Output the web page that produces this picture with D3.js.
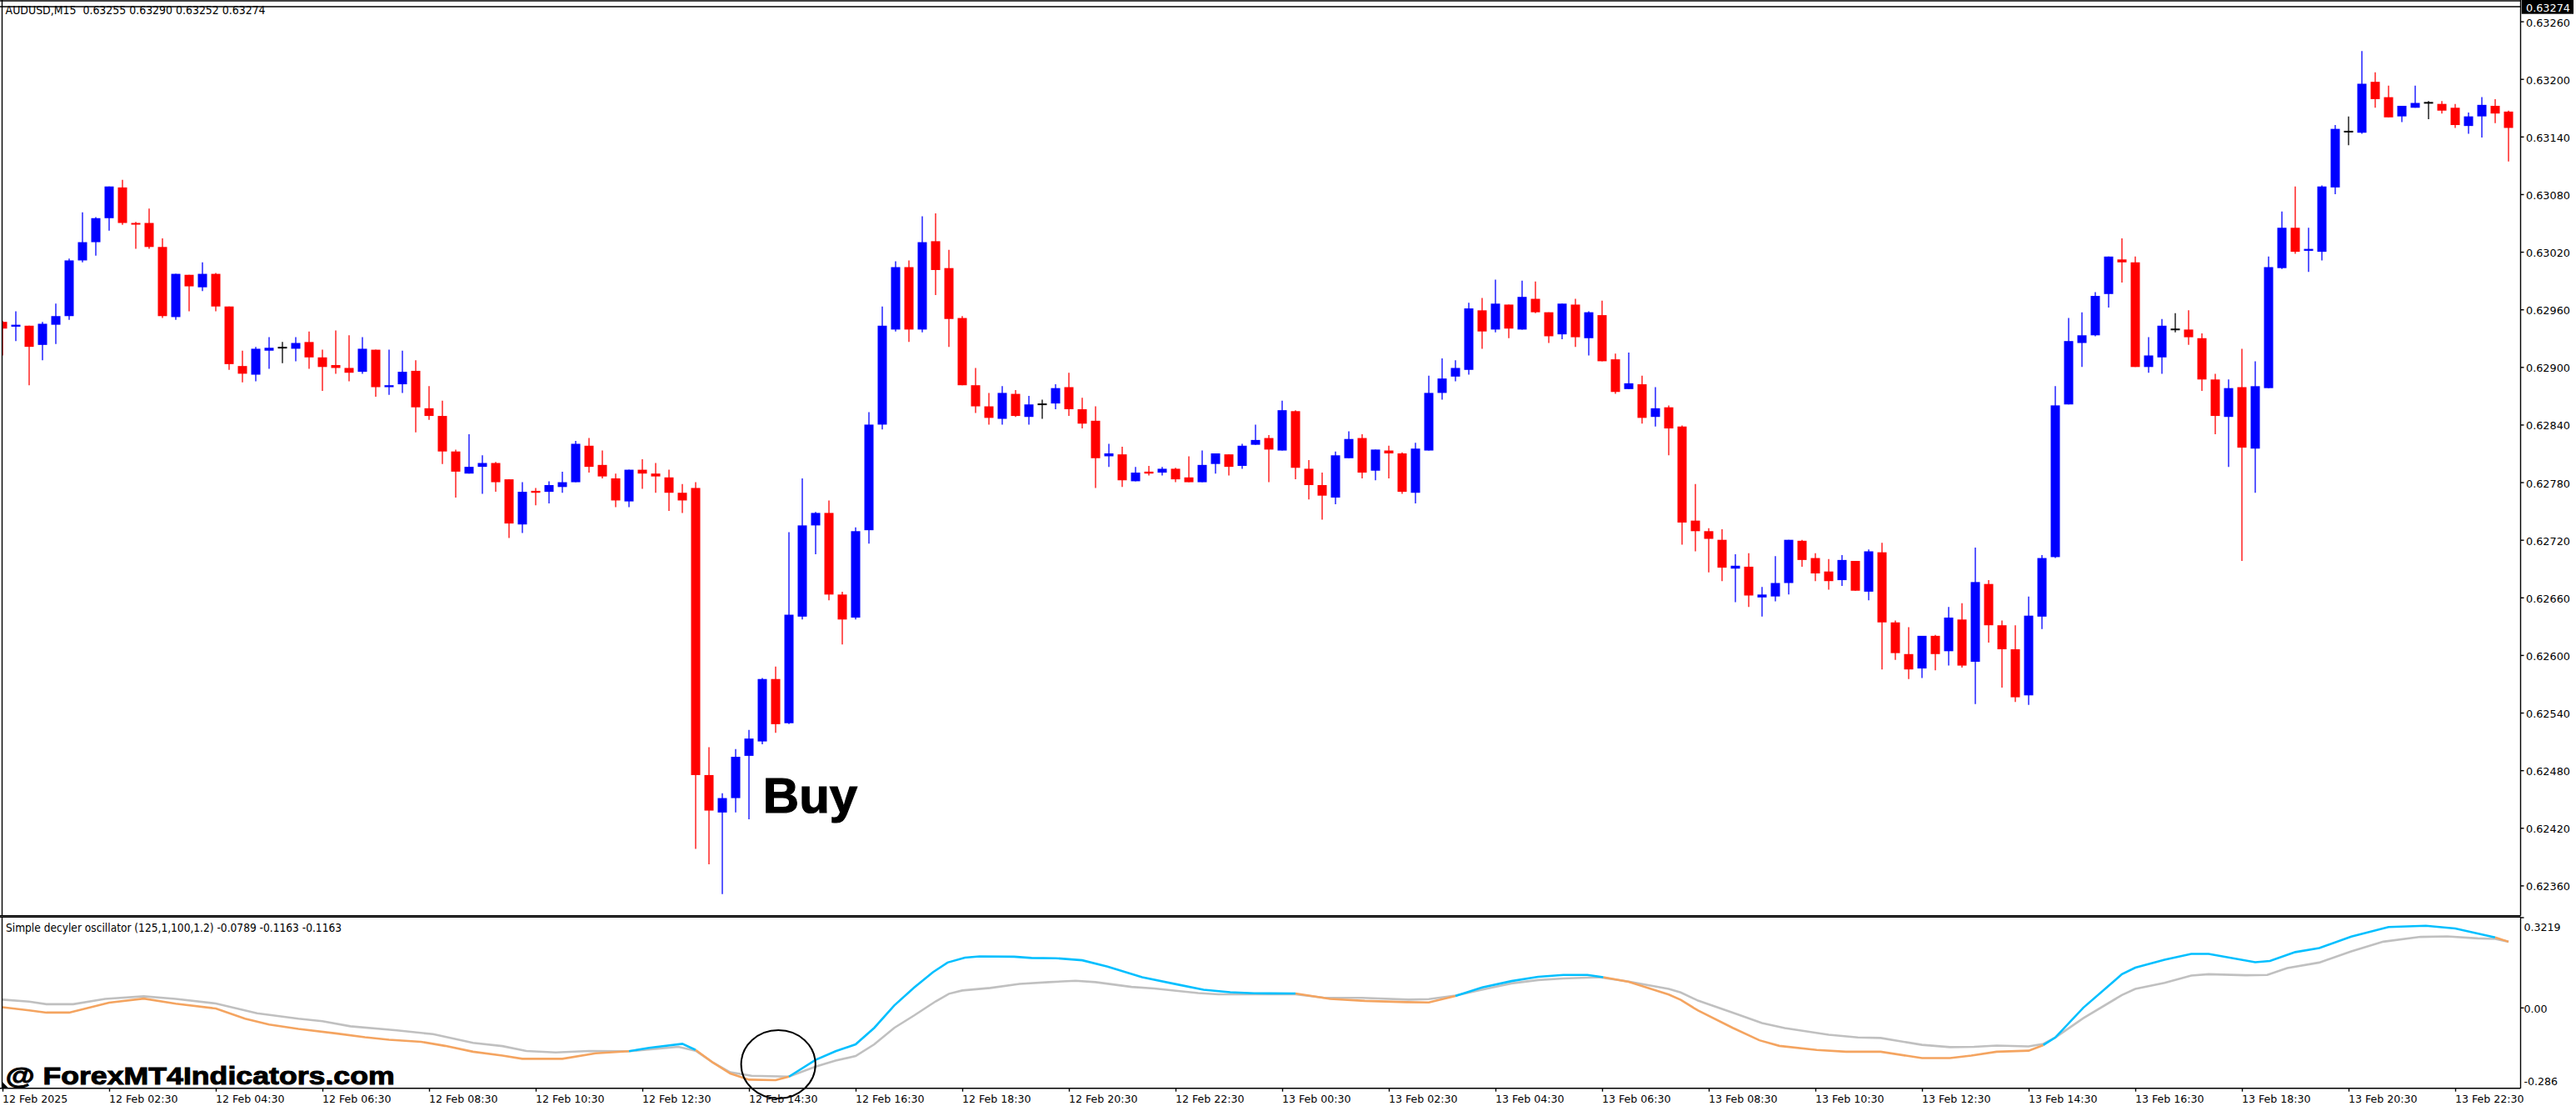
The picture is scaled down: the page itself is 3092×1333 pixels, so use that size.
<!DOCTYPE html>
<html>
<head>
<meta charset="utf-8">
<script src="https://cdn.jsdelivr.net/npm/d3@7"></script>
<style>
  html, body { margin: 0; background: #fff; }
  svg { display: block; }
  text { font-family: "DejaVu Sans", sans-serif; fill: #000; white-space: pre; }
</style>
</head>
<body>
<svg id="chart" width="3092" height="1333"></svg>
<script>
// prices in 1/100000, one entry per M15 bar
const opens = [62947,62942,62943,62923,62944,62953,63011,63030,63055,63087,63050,63050,63025,62952,62996,62983,62997,62963,62901,62892,62917,62921,62919,62926,62910,62902,62899,62895,62918,62879,62882,62896,62857,62849,62812,62789,62796,62800,62783,62736,62771,62770,62775,62780,62818,62798,62784,62760,62793,62789,62785,62769,62774,62475,62436,62451,62495,62510,62575,62529,62640,62735,62748,62663,62639,62730,62840,62939,63004,62939,63031,63003,62951,62881,62859,62846,62872,62848,62862,62862,62879,62856,62844,62807,62809,62781,62791,62790,62794,62785,62780,62799,62809,62797,62819,62826,62813,62854,62794,62777,62764,62805,62826,62792,62813,62810,62769,62813,62873,62890,62897,62959,62939,62965,62939,62971,62957,62934,62965,62930,62954,62908,62877,62882,62848,62858,62838,62740,62729,62720,62690,62692,62660,62661,62675,62719,62701,62687,62678,62698,62666,62707,62634,62601,62586,62620,62604,62637,62593,62674,62631,62606,62558,62640,62702,62861,62925,62933,62976,63012,63009,62900,62910,62940,62939,62930,62887,62848,62879,62815,62878,63003,63045,63021,63020,63087,63146,63144,63197,63181,63161,63170,63176,63174,63170,63151,63161,63172,63166];
const highs = [62948,62958,62943,62947,62966,63013,63061,63056,63088,63095,63051,63065,63034,62997,62996,63009,62998,62963,62917,62921,62931,62926,62931,62937,62918,62938,62933,62931,62918,62918,62917,62907,62880,62865,62814,62830,62808,62801,62783,62780,62774,62781,62791,62823,62826,62813,62789,62793,62804,62800,62793,62778,62780,62504,62456,62502,62522,62576,62588,62728,62784,62749,62761,62666,62733,62853,62963,63010,63011,63057,63060,63022,62953,62899,62873,62880,62876,62870,62866,62882,62894,62868,62859,62820,62817,62796,62797,62796,62795,62807,62813,62810,62809,62820,62840,62829,62865,62855,62803,62790,62812,62833,62830,62814,62818,62811,62821,62891,62909,62907,62967,62972,62991,62965,62990,62989,62957,62966,62971,62958,62969,62914,62915,62891,62879,62860,62839,62778,62732,62731,62705,62706,62671,62703,62720,62720,62706,62700,62704,62698,62710,62717,62636,62629,62620,62621,62650,62654,62712,62678,62636,62631,62661,62704,62880,62951,62957,62978,63015,63034,63015,62931,62950,62956,62959,62935,62893,62887,62919,62906,63015,63062,63088,63045,63089,63152,63161,63229,63207,63193,63172,63193,63177,63177,63174,63165,63181,63179,63167];
const lows = [62912,62927,62881,62907,62924,62949,63009,63016,63042,63048,63023,63023,62951,62949,62958,62979,62958,62897,62884,62885,62898,62904,62906,62898,62875,62893,62885,62893,62869,62871,62873,62832,62845,62799,62764,62789,62768,62770,62722,62727,62756,62758,62769,62780,62790,62784,62754,62754,62773,62769,62750,62748,62398,62382,62351,62436,62429,62507,62519,62528,62637,62705,62657,62611,62637,62716,62835,62937,62926,62936,62975,62921,62881,62852,62840,62840,62848,62840,62846,62856,62849,62836,62774,62796,62775,62781,62787,62787,62780,62780,62780,62789,62787,62794,62819,62780,62813,62783,62762,62741,62757,62805,62784,62782,62784,62768,62758,62813,62866,62885,62892,62919,62936,62930,62939,62956,62925,62929,62921,62912,62906,62872,62877,62841,62838,62808,62715,62708,62686,62677,62655,62650,62640,62656,62663,62692,62677,62668,62672,62667,62657,62585,62595,62575,62576,62584,62589,62587,62549,62613,62566,62551,62548,62627,62701,62861,62900,62932,62962,62988,62900,62894,62893,62936,62923,62875,62830,62796,62698,62769,62878,63002,63018,62999,63011,63080,63131,63143,63170,63160,63155,63170,63158,63164,63149,63143,63139,63154,63114];
const closes = [62940,62944,62921,62945,62953,63011,63030,63055,63088,63050,63049,63025,62953,62997,62984,62997,62963,62903,62893,62919,62920,62921,62925,62910,62900,62899,62894,62919,62879,62881,62895,62858,62849,62812,62791,62796,62800,62780,62737,62770,62769,62777,62780,62820,62796,62786,62761,62793,62789,62786,62769,62761,62475,62438,62451,62494,62513,62575,62528,62642,62735,62748,62663,62637,62729,62840,62943,63004,62939,63030,63001,62950,62881,62859,62847,62873,62849,62861,62862,62878,62856,62841,62805,62810,62782,62790,62789,62794,62783,62780,62798,62810,62796,62818,62824,62814,62855,62795,62777,62766,62808,62825,62790,62814,62810,62770,62815,62873,62888,62899,62961,62937,62966,62940,62973,62957,62932,62966,62931,62957,62906,62874,62883,62847,62857,62836,62738,62729,62721,62691,62693,62662,62663,62675,62720,62699,62685,62677,62699,62667,62708,62634,62602,62585,62620,62601,62639,62589,62676,62631,62606,62556,62641,62701,62860,62927,62933,62974,63015,63009,62900,62912,62943,62940,62931,62887,62849,62878,62816,62880,63004,63045,63020,63023,63088,63148,63146,63195,63179,63160,63172,63175,63176,63167,63152,63161,63173,63164,63149];

const priceTicks = [0.6326,0.632,0.6314,0.6308,0.6302,0.6296,0.629,0.6284,0.6278,0.6272,0.6266,0.626,0.6254,0.6248,0.6242,0.6236];
const lastPrice = 0.63274;

const timeLabels = ["12 Feb 2025","12 Feb 02:30","12 Feb 04:30","12 Feb 06:30","12 Feb 08:30","12 Feb 10:30","12 Feb 12:30","12 Feb 14:30","12 Feb 16:30","12 Feb 18:30","12 Feb 20:30","12 Feb 22:30","13 Feb 00:30","13 Feb 02:30","13 Feb 04:30","13 Feb 06:30","13 Feb 08:30","13 Feb 10:30","13 Feb 12:30","13 Feb 14:30","13 Feb 16:30","13 Feb 18:30","13 Feb 20:30","13 Feb 22:30"];

// oscillator
const oscMainBars = [0,2,3.3,5,8,10.6,13,16,18.2,20,22.2,25,27.2,29,31.4,33.2,35.3,37.5,39,42,44.5,47,48.5,51,52,53.3,54.6,56,58,59,61,62.5,64,65.4,66.9,68.4,69.8,70.9,72.2,73.3,75.9,77.2,79,81,82.9,85.5,88.2,90.1,92.1,93.9,97,99.6,102.2,105.3,107,109,111,113.2,115.2,117.1,118.9,120.1,122,125,125.9,127.2,129.8,131.8,133.3,136.1,138.3,140.9,144,146.1,147.7,149.6,152,153.1,154,156.1,159,160,162.2,164.2,165.5,169,170.1,172,173.8,176.2,179,181.8,184,187,188];
const oscMain = [0.001,-0.011,-0.02,-0.02,0.019,0.035,0.015,-0.004,-0.044,-0.067,-0.084,-0.102,-0.117,-0.127,-0.135,-0.151,-0.174,-0.189,-0.202,-0.202,-0.18,-0.172,-0.159,-0.143,-0.167,-0.217,-0.26,-0.284,-0.286,-0.272,-0.206,-0.172,-0.145,-0.08,0.008,0.079,0.139,0.177,0.196,0.201,0.2,0.195,0.194,0.186,0.161,0.119,0.09,0.07,0.06,0.056,0.055,0.034,0.026,0.021,0.02,0.045,0.079,0.104,0.121,0.128,0.128,0.119,0.101,0.051,0.03,-0.012,-0.08,-0.129,-0.151,-0.167,-0.174,-0.174,-0.199,-0.199,-0.189,-0.174,-0.17,-0.148,-0.118,-0.001,0.131,0.157,0.188,0.211,0.211,0.178,0.183,0.218,0.234,0.279,0.317,0.3219,0.311,0.276,0.259];
const oscSignalBars = [0,2,3.3,5.3,7.7,10.6,13,16,19.1,22.2,24,26.1,29.6,32.3,35.3,37.5,39.3,41.5,44,47,50.7,52,53.3,54.6,56.2,59,61,62.5,64,65.4,66.9,68.4,70,71,72,74.1,76.3,78.5,80.5,82,84.7,86.4,88.2,89.7,91.2,97,99.1,102,105.5,107,109,111.4,113.2,115.2,117.1,119.8,122,125,125.9,127.2,129.8,132,133.7,137,139.2,140.9,144,146.1,147.9,149.6,152,153.1,154,156.1,159,160,162.2,164.2,165.5,168.3,169.9,171.4,173.8,176.2,178.6,181.4,183.4,185.7,187,188];
const oscSignal = [0.031,0.023,0.013,0.013,0.034,0.044,0.034,0.016,-0.023,-0.044,-0.054,-0.074,-0.09,-0.105,-0.139,-0.152,-0.171,-0.177,-0.171,-0.172,-0.155,-0.17,-0.217,-0.255,-0.269,-0.272,-0.233,-0.209,-0.191,-0.145,-0.08,-0.031,0.024,0.054,0.067,0.077,0.093,0.1,0.105,0.1,0.081,0.075,0.065,0.057,0.052,0.052,0.039,0.038,0.031,0.033,0.047,0.075,0.095,0.108,0.114,0.119,0.102,0.073,0.059,0.027,-0.02,-0.061,-0.081,-0.107,-0.118,-0.12,-0.147,-0.156,-0.155,-0.15,-0.153,-0.143,-0.118,-0.042,0.049,0.073,0.097,0.126,0.131,0.127,0.128,0.155,0.177,0.221,0.259,0.278,0.28,0.272,0.27,0.259];
// main line changes colour at these bars, starting orange
const oscFlipBars = [47,52,59,97,109,120.1,153.1,187];
const oscTicks = [0.3219,0,-0.286];

const headerText = "AUDUSD,M15  0.63255 0.63290 0.63252 0.63274";
const oscHeaderText = "Simple decyler oscillator (125,1,100,1.2) -0.0789 -0.1163 -0.1163";

const UP = "#0000ff", DOWN = "#ff0000", DOJI = "#000000";
const AXIS_X = 3025.5, LEFT_X = 2.5, BODY_W = 11;

const svg = d3.select("#chart");
const x = d3.scaleLinear().domain([0, 188]).range([3, 3011]);
const y = d3.scaleLinear().domain([0.6326, 0.6236]).range([25.6, 1062.4]);
const oscY = d3.scaleLinear().domain([0.3219, -0.286]).range([1110.7, 1296]);

svg.append("clipPath").attr("id", "plot")
  .append("rect").attr("x", LEFT_X).attr("y", 0).attr("width", AXIS_X - LEFT_X).attr("height", 1306);

// candles
const bars = opens.map((o, i) => ({
  i, open: o / 1e5, high: highs[i] / 1e5, low: lows[i] / 1e5, close: closes[i] / 1e5
}));
const barColor = d => d.close > d.open ? UP : d.close < d.open ? DOWN : DOJI;

const candles = svg.append("g").attr("clip-path", "url(#plot)")
  .selectAll("g").data(bars).join("g");
candles.append("line")
  .attr("x1", d => x(d.i)).attr("x2", d => x(d.i))
  .attr("y1", d => y(d.high)).attr("y2", d => y(d.low))
  .attr("stroke", barColor).attr("stroke-width", 1.3);
candles.append("rect")
  .attr("x", d => x(d.i) - BODY_W / 2)
  .attr("width", BODY_W)
  .attr("y", d => y(Math.max(d.open, d.close)))
  .attr("height", d => Math.max(2, Math.abs(y(d.open) - y(d.close))))
  .attr("fill", barColor);

// oscillator lines
const oscLine = d3.line().x(d => x(d.bar)).y(d => oscY(d.value));
const signalPts = oscSignalBars.map((bar, i) => ({ bar, value: oscSignal[i] }));
const mainPts = oscMainBars.map((bar, i) => ({ bar, value: oscMain[i] }));

svg.append("path").attr("d", oscLine(signalPts))
  .attr("fill", "none").attr("stroke", "#c0c0c0").attr("stroke-width", 2.6);

const edges = [0, ...oscFlipBars, 188];
d3.pairs(edges).forEach(([from, to], k) => {
  svg.append("path")
    .attr("d", oscLine(mainPts.filter(p => p.bar >= from && p.bar <= to)))
    .attr("fill", "none")
    .attr("stroke", k % 2 ? "#00bfff" : "#f4a460")
    .attr("stroke-width", 2.6);
});

// frame
const frame = [
  [0, 1, AXIS_X, 1], [0, 8, AXIS_X, 8], [0, 1098.7, AXIS_X, 1098.7], [0, 1100.3, AXIS_X, 1100.3],
  [0, 1305.7, AXIS_X, 1305.7], [LEFT_X, 0, LEFT_X, 1098.7], [LEFT_X, 1100.3, LEFT_X, 1305.7],
  [AXIS_X, 0, AXIS_X, 1098.7], [AXIS_X, 1100.3, AXIS_X, 1305.7]
];
svg.append("g").selectAll("line").data(frame).join("line")
  .attr("x1", d => d[0]).attr("y1", d => d[1]).attr("x2", d => d[2]).attr("y2", d => d[3])
  .attr("stroke", "#000").attr("stroke-width", 1.4);

// axes
const priceAxis = svg.append("g").attr("transform", `translate(${AXIS_X},0)`)
  .call(d3.axisRight(y).tickValues(priceTicks).tickSize(4).tickPadding(2.5).tickFormat(d3.format(".5f")));
priceAxis.select(".domain").remove();
priceAxis.selectAll("text").attr("dy", 5.5).attr("font-size", 12.8).attr("font-family", null);
priceAxis.selectAll("line").attr("stroke", "#000").attr("stroke-width", 1.4);

const oscAxis = svg.append("g").attr("transform", `translate(${AXIS_X},0)`)
  .call(d3.axisRight(oscY).tickValues(oscTicks).tickSize(0).tickPadding(4)
    .tickFormat(d => d === 0 ? "0.00" : d === -0.286 ? "-0.286" : d3.format(".4f")(d)));
oscAxis.select(".domain").remove();
oscAxis.selectAll("text").attr("dy", 5.5).attr("font-size", 12.6).attr("font-family", null);
oscAxis.selectAll(".tick").filter(d => d === 0).select("line")
  .attr("x2", 4).attr("stroke", "#000").attr("stroke-width", 1.4);
svg.append("line").attr("x1", AXIS_X).attr("x2", AXIS_X + 4).attr("y1", 1101).attr("y2", 1101)
  .attr("stroke", "#000").attr("stroke-width", 1.4);

const timeAxis = svg.append("g").attr("transform", "translate(0,1305.7)")
  .call(d3.axisBottom(x).tickValues(timeLabels.map((_, k) => k * 8)).tickSize(4).tickPadding(0)
    .tickFormat((d, k) => timeLabels[k]));
timeAxis.select(".domain").remove();
timeAxis.selectAll("line").attr("stroke", "#000").attr("stroke-width", 1.4);
timeAxis.selectAll("text").attr("text-anchor", "start").attr("y", 0).attr("dy", 17.8)
  .attr("x", -0.5).attr("font-size", 12.6).attr("font-family", null);

// current price tag
svg.append("rect").attr("x", 3026.7).attr("y", 0).attr("width", 62.3).attr("height", 16.7).attr("fill", "#000");
svg.append("text").attr("x", 3032).attr("y", 14).attr("font-size", 12.8)
  .style("fill", "#fff").text(lastPrice.toFixed(5));

// headers
svg.append("text").attr("x", 6.6).attr("y", 16.5).attr("font-size", 13.5)
  .attr("textLength", 312).attr("lengthAdjust", "spacingAndGlyphs").text(headerText);
svg.append("text").attr("x", 7).attr("y", 1118).attr("font-size", 13.5)
  .attr("textLength", 403).attr("lengthAdjust", "spacingAndGlyphs").text(oscHeaderText);

// annotations
svg.append("text").attr("x", x(57.05)).attr("y", y(0.62436))
  .attr("font-weight", 700).attr("font-size", 60)
  .style("font-family", "Liberation Sans").attr("stroke", "#000").attr("stroke-width", 1.2).text("Buy");

svg.append("ellipse").attr("cx", x(58.2)).attr("cy", oscY(-0.224)).attr("rx", 44.6).attr("ry", 41)
  .attr("fill", "none").attr("stroke", "#000").attr("stroke-width", 2);

svg.append("path").attr("d", d3.line()([[2.7, 1298], [2.7, 1306], [10.7, 1306]])).attr("fill", "#000");

svg.append("text").attr("x", 6.7).attr("y", 1300.7).attr("font-size", 30).attr("font-weight", 700)
  .style("font-family", "Liberation Sans").attr("stroke", "#000").attr("stroke-width", 1)
  .attr("textLength", 467).attr("lengthAdjust", "spacingAndGlyphs").text("@ ForexMT4Indicators.com");
</script>
</body>
</html>
